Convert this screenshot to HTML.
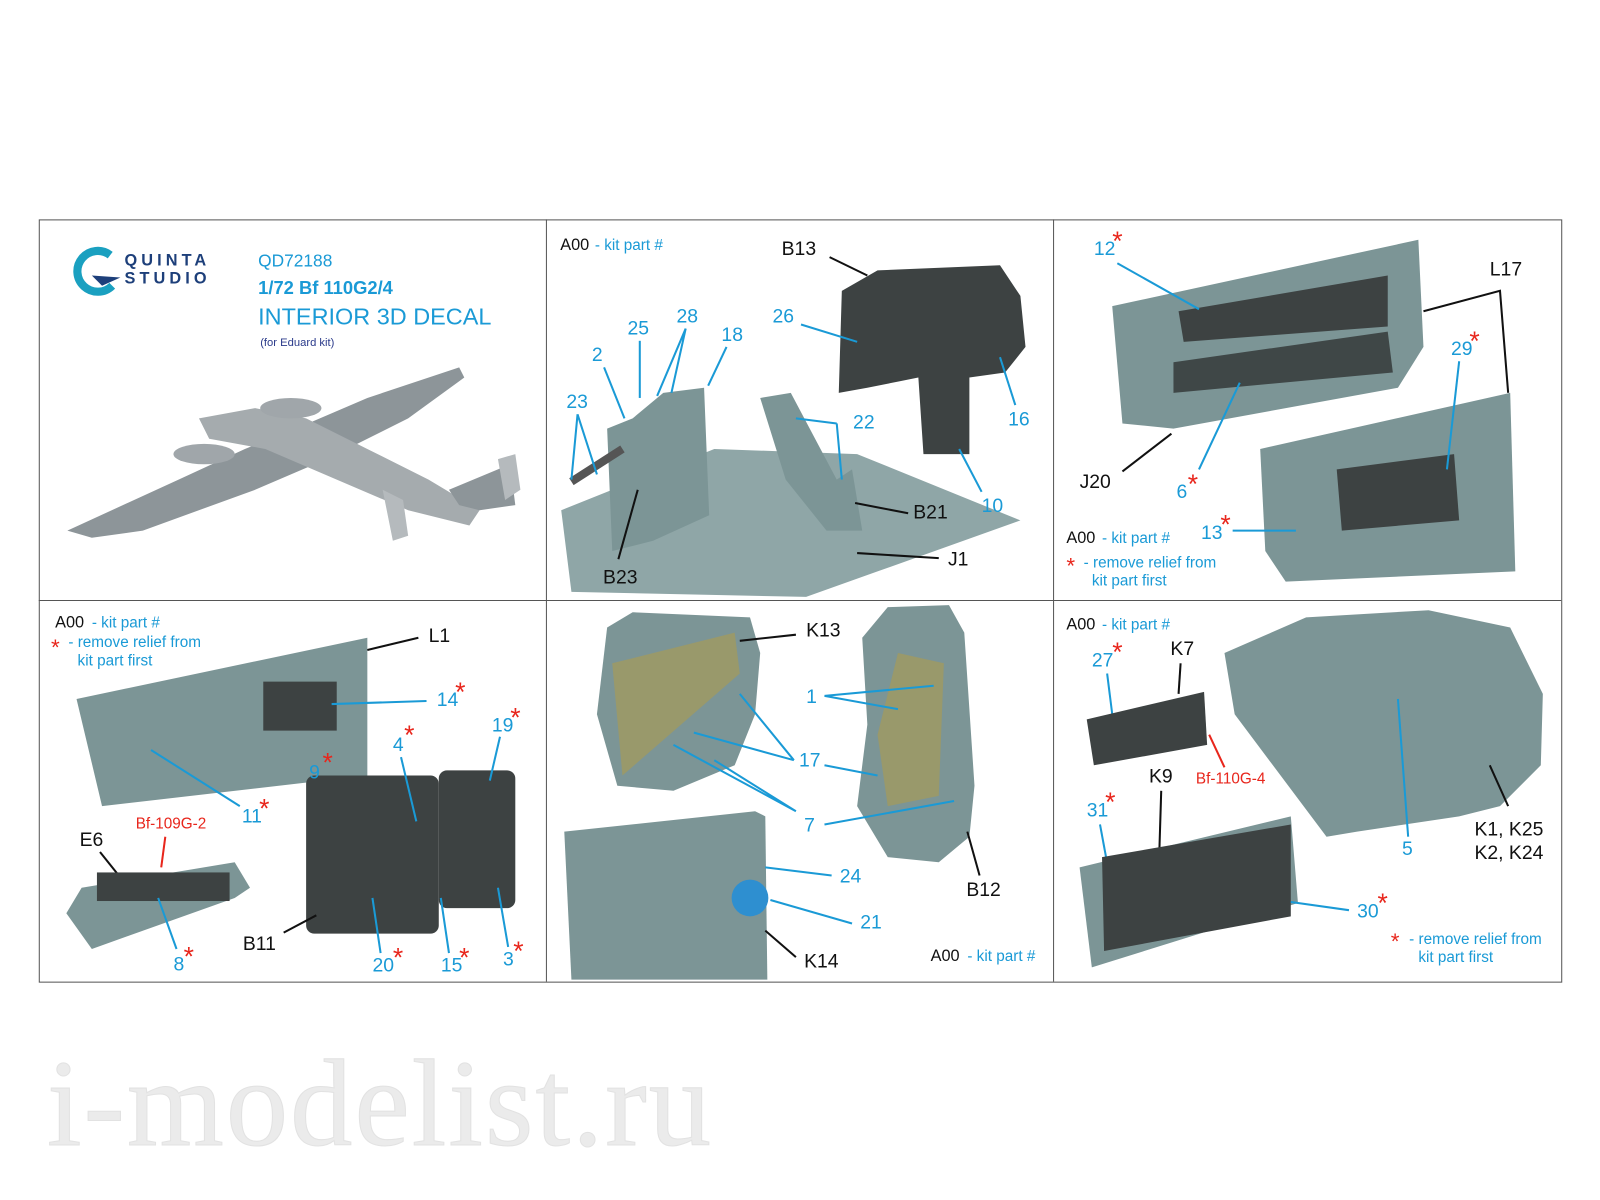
<!DOCTYPE html>
<html><head><meta charset="utf-8"><style>
html,body{margin:0;padding:0;background:#fff}
svg{display:block}
text{font-family:"Liberation Sans",Arial,sans-serif}
.b{fill:#1a9ad6;font-size:19px}
.k{fill:#111;font-size:19px}
.r{fill:#e8261c;font-size:15px}
.s{fill:#e8261c;font-size:26px}
.lb{stroke:#1a9ad6;stroke-width:2;fill:none}
.lk{stroke:#111;stroke-width:2;fill:none}
.lr{stroke:#e8261c;stroke-width:2;fill:none}
.g{fill:#7c9596}
.gl{fill:#8fa6a7}
.d{fill:#3d4242}
.bs{fill:#1a9ad6;font-size:15px}
.ks{fill:#111;font-size:16px}
</style></head><body>
<svg width="1600" height="1200" viewBox="0 0 1600 1200">
<g transform="scale(1.0204)">
<rect x="38.5" y="215.5" width="1492" height="747" fill="none" stroke="#555" stroke-width="1"/>
<line x1="535.5" y1="215" x2="535.5" y2="962" stroke="#555"/>
<line x1="1032.5" y1="215" x2="1032.5" y2="962" stroke="#555"/>
<line x1="38" y1="588.5" x2="1530" y2="588.5" stroke="#555"/>

<!-- Panel 1 -->
<path d="M108,250 A20,20 0 1 0 110,280" fill="none" stroke="#1aa0c0" stroke-width="8"/>
<path d="M90,270 L118,272 L100,280 Z" fill="#1d3f7a"/>
<text x="122" y="260" style="font-size:16px;font-weight:bold;letter-spacing:4px;fill:#1d3f7a">QUINTA</text>
<text x="122" y="278" style="font-size:16px;font-weight:bold;letter-spacing:4px;fill:#1d3f7a">STUDIO</text>
<text x="253" y="261" class="b" style="font-size:17px">QD72188</text>
<text x="253" y="288" class="b" style="font-size:18px;font-weight:bold">1/72 Bf 110G2/4</text>
<text x="253" y="318" class="b" style="font-size:23px">INTERIOR 3D DECAL</text>
<text x="255" y="339" style="font-size:11px;fill:#2a3a8a">(for Eduard kit)</text>
<polygon points="66,520 175,470 240,440 290,420 360,390 450,360 455,370 400,410 320,450 250,480 140,520 90,527" fill="#8d9599"/>
<polygon points="195,410 250,400 300,410 360,440 420,470 470,500 460,515 400,500 330,470 260,440 205,430" fill="#a5abae"/>
<polygon points="440,480 500,455 505,495 470,500 450,495" fill="#8d9599"/>
<polygon points="488,450 505,445 510,480 495,490" fill="#b5babd"/>
<polygon points="375,480 395,490 400,525 385,530" fill="#b5babd"/>
<ellipse cx="200" cy="445" rx="30" ry="10" fill="#a0a6aa"/>
<ellipse cx="285" cy="400" rx="30" ry="10" fill="#a0a6aa"/>

<!-- Panel 2 -->
<text x="549" y="245" class="ks">A00</text><text x="583" y="245" class="bs">- kit part #</text>
<polygon points="550,500 700,440 840,445 1000,510 860,560 790,585 560,580" class="gl"/>
<polygon points="595,420 620,410 650,385 690,380 695,505 640,530 600,540" class="g"/>
<polygon points="745,390 775,385 820,470 835,460 845,520 810,520 770,470" class="g"/>
<polygon points="825,285 860,265 980,260 1000,290 1005,340 985,365 950,370 950,445 905,445 900,370 850,380 822,385" class="d"/>
<line x1="560" y1="472" x2="610" y2="440" stroke="#555" stroke-width="8"/>
<text x="766" y="250" class="k">B13</text><path d="M813,252 L850,270" class="lk"/>
<text x="757" y="316" class="b">26</text><path d="M785,318 L840,335" class="lb"/>
<text x="988" y="417" class="b">16</text><path d="M995,397 L980,350" class="lb"/>
<text x="962" y="502" class="b">10</text><path d="M962,482 L940,440" class="lb"/>
<text x="836" y="420" class="b">22</text><path d="M820,415 L780,410 M820,415 L825,470" class="lb"/>
<text x="895" y="508" class="k">B21</text><path d="M890,503 L838,493" class="lk"/>
<text x="929" y="554" class="k">J1</text><path d="M920,547 L840,542" class="lk"/>
<text x="591" y="572" class="k">B23</text><path d="M606,548 L625,480" class="lk"/>
<text x="555" y="400" class="b">23</text><path d="M566,406 L560,470 M566,406 L585,465" class="lb"/>
<text x="580" y="354" class="b">2</text><path d="M592,360 L612,410" class="lb"/>
<text x="615" y="328" class="b">25</text><path d="M627,334 L627,390" class="lb"/>
<text x="663" y="316" class="b">28</text><path d="M672,322 L644,388 M672,322 L658,385" class="lb"/>
<text x="707" y="334" class="b">18</text><path d="M712,340 L694,378" class="lb"/>

<!-- Panel 3 -->
<polygon points="1090,300 1390,235 1395,340 1370,380 1150,420 1100,415" class="g"/>
<polygon points="1155,305 1360,270 1360,320 1160,335" class="d"/>
<polygon points="1150,355 1360,325 1365,365 1150,385" fill="#3f4747"/>
<polygon points="1235,440 1480,385 1485,560 1260,570 1240,540" class="g"/>
<polygon points="1310,460 1425,445 1430,510 1315,520" class="d"/>
<text x="1072" y="250" class="b">12</text><text x="1090" y="245" class="s">*</text><path d="M1095,258 L1175,303" class="lb"/>
<text x="1460" y="270" class="k">L17</text><path d="M1395,305 L1470,285 L1478,385" class="lk"/>
<text x="1422" y="348" class="b">29</text><text x="1440" y="343" class="s">*</text><path d="M1430,354 L1418,460" class="lb"/>
<text x="1058" y="478" class="k">J20</text><path d="M1100,462 L1148,425" class="lk"/>
<text x="1153" y="488" class="b">6</text><text x="1164" y="483" class="s">*</text><path d="M1175,460 L1215,375" class="lb"/>
<text x="1045" y="532" class="ks">A00</text><text x="1080" y="532" class="bs">- kit part #</text>
<text x="1045" y="562" class="s" style="font-size:22px">*</text><text x="1062" y="556" class="bs">- remove relief from</text>
<text x="1070" y="574" class="bs">kit part first</text>
<text x="1177" y="528" class="b">13</text><text x="1196" y="523" class="s">*</text><path d="M1208,520 L1270,520" class="lb"/>

<!-- Panel 4 -->
<text x="54" y="615" class="ks">A00</text><text x="90" y="615" class="bs">- kit part #</text>
<text x="50" y="642" class="s" style="font-size:22px">*</text><text x="67" y="634" class="bs">- remove relief from</text>
<text x="76" y="652" class="bs">kit part first</text>
<polygon points="75,685 360,625 360,760 100,790" class="g"/>
<rect x="258" y="668" width="72" height="48" class="d"/>
<text x="420" y="629" class="k">L1</text><path d="M410,625 L360,637" class="lk"/>
<text x="428" y="692" class="b">14</text><text x="446" y="687" class="s">*</text><path d="M418,687 L325,690" class="lb"/>
<text x="237" y="806" class="b">11</text><text x="254" y="801" class="s">*</text><path d="M235,790 L148,735" class="lb"/>
<rect x="300" y="760" width="130" height="155" class="d" rx="8"/>
<rect x="430" y="755" width="75" height="135" class="d" rx="8"/>
<text x="303" y="763" class="b">9</text><text x="316" y="756" class="s">*</text>
<text x="385" y="736" class="b">4</text><text x="396" y="729" class="s">*</text><path d="M393,742 L408,805" class="lb"/>
<text x="482" y="717" class="b">19</text><text x="500" y="712" class="s">*</text><path d="M490,722 L480,765" class="lb"/>
<text x="78" y="829" class="k">E6</text><path d="M98,835 L122,865" class="lk"/>
<text x="133" y="812" class="r">Bf-109G-2</text><path d="M162,820 L158,850" class="lr"/>
<polygon points="65,895 80,870 230,845 245,870 230,880 90,930" class="g"/>
<rect x="95" y="855" width="130" height="28" class="d"/>
<text x="170" y="951" class="b">8</text><text x="180" y="946" class="s">*</text><path d="M173,930 L155,880" class="lb"/>
<text x="238" y="931" class="k">B11</text><path d="M278,914 L310,897" class="lk"/>
<text x="365" y="952" class="b">20</text><text x="385" y="947" class="s">*</text><path d="M373,934 L365,880" class="lb"/>
<text x="432" y="952" class="b">15</text><text x="450" y="947" class="s">*</text><path d="M440,934 L432,880" class="lb"/>
<text x="493" y="946" class="b">3</text><text x="503" y="941" class="s">*</text><path d="M498,928 L488,870" class="lb"/>

<!-- Panel 5 -->
<polygon points="595,615 620,600 735,605 745,640 740,700 720,750 660,775 605,770 585,700" class="g"/>
<polygon points="845,625 870,595 930,593 945,620 955,770 950,820 920,845 870,840 840,790 850,710" class="g"/>
<polygon points="600,650 720,620 725,660 610,760" fill="#a09a60" opacity=".8"/>
<polygon points="860,720 880,640 925,650 920,780 870,790" fill="#a09a60" opacity=".8"/>
<polygon points="553,815 740,795 750,800 752,960 560,960" class="g"/>
<circle cx="735" cy="880" r="18" fill="#2e8fd0"/>
<text x="790" y="624" class="k">K13</text><path d="M780,622 L725,628" class="lk"/>
<text x="790" y="689" class="b">1</text><path d="M808,682 L880,695 M808,682 L915,672" class="lb"/>
<text x="783" y="751" class="b">17</text><path d="M778,745 L725,680 M778,745 L680,718 M808,750 L860,760" class="lb"/>
<text x="788" y="815" class="b">7</text><path d="M780,795 L700,745 M780,795 L660,730 M808,808 L935,785" class="lb"/>
<text x="947" y="878" class="k">B12</text><path d="M960,858 L948,815" class="lk"/>
<text x="823" y="865" class="b">24</text><path d="M815,858 L750,850" class="lb"/>
<text x="843" y="910" class="b">21</text><path d="M835,905 L755,882" class="lb"/>
<text x="788" y="948" class="k">K14</text><path d="M780,938 L750,912" class="lk"/>
<text x="912" y="942" class="ks">A00</text><text x="948" y="942" class="bs">- kit part #</text>

<!-- Panel 6 -->
<text x="1045" y="617" class="ks">A00</text><text x="1080" y="617" class="bs">- kit part #</text>
<polygon points="1200,640 1280,605 1400,598 1480,615 1512,680 1510,750 1470,790 1430,800 1330,815 1300,820 1210,700" class="g"/>
<text x="1070" y="653" class="b">27</text><text x="1090" y="648" class="s">*</text><path d="M1085,660 L1090,700" class="lb"/>
<text x="1147" y="642" class="k">K7</text><path d="M1157,650 L1155,680" class="lk"/>
<polygon points="1065,705 1180,678 1183,730 1072,750" class="d"/>
<text x="1172" y="768" class="r">Bf-110G-4</text><path d="M1200,752 L1185,720" class="lr"/>
<text x="1126" y="767" class="k">K9</text><path d="M1138,775 L1136,840" class="lk"/>
<text x="1065" y="800" class="b">31</text><text x="1083" y="795" class="s">*</text><path d="M1078,808 L1088,862" class="lb"/>
<polygon points="1058,850 1265,800 1272,885 1070,948" class="g"/>
<polygon points="1080,840 1265,808 1265,898 1082,932" class="d"/>
<text x="1330" y="899" class="b">30</text><text x="1350" y="894" class="s">*</text><path d="M1322,892 L1265,884" class="lb"/>
<text x="1374" y="838" class="b">5</text><path d="M1380,820 L1370,685" class="lb"/>
<text x="1445" y="819" class="k">K1, K25</text><text x="1445" y="842" class="k">K2, K24</text><path d="M1478,790 L1460,750" class="lk"/>
<text x="1363" y="930" class="s" style="font-size:22px">*</text><text x="1381" y="925" class="bs">- remove relief from</text>
<text x="1390" y="943" class="bs">kit part first</text>

<text x="46" y="1122" style="font-family:'Liberation Serif',serif;font-size:122px;letter-spacing:2px;fill:#ebebeb;stroke:#e2e2e2">i-modelist.ru</text>
</g>
</svg>
</body></html>
